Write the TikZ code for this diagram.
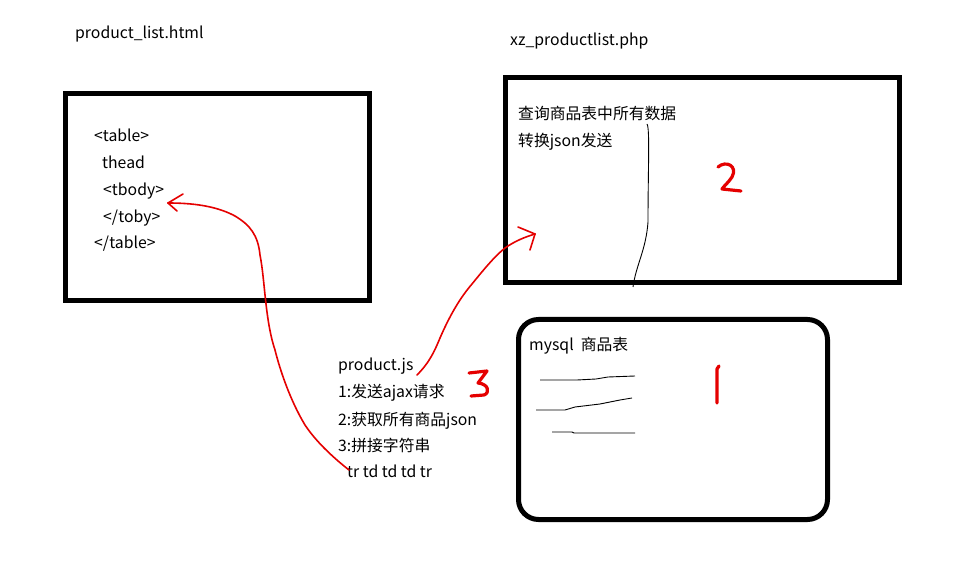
\documentclass[tikz,border=0pt]{standalone}
\usepackage{fontspec}
\setmainfont{Noto Sans CJK SC}
\begin{document}
\begin{tikzpicture}[x=1pt,y=-1pt,
  txt/.style={anchor=base west,inner sep=0pt,font=\fontsize{15.8}{18}\selectfont},
  frame/.style={draw=black,line width=5pt},
  pen/.style={draw=red!90!black,line width=1.6pt,line join=round,line cap=round},
  digit/.style={draw=red!90!black,line width=3.2pt,line join=round,line cap=round},
  ink/.style={draw=black,line width=0.9pt}]
\useasboundingbox[fill=white] (0,0) rectangle (962,585);
% boxes
\draw[frame] (65.5,93.5) rectangle (369.5,300.5);
\draw[frame] (505.5,78) rectangle (899.5,282.5);
\draw[frame,rounded corners=20pt] (518.5,319.5) rectangle (827.5,519.5);
% titles
\node[txt] (t1) at (75,39) {product\_list.html};
\node[txt] (t2) at (510,46) {xz\_productlist.php};
% html box
\node[txt] (h1) at (94,142) {<table>};
\node[txt] (h2) at (102,169) {thead};
\node[txt] (h3) at (103,196) {<tbody>};
\node[txt] (h4) at (103,223) {</toby>};
\node[txt] (h5) at (94,249) {</table>};
% php box
\node[txt] (p1) at (518,120) {查询商品表中所有数据};
\node[txt] (p2) at (518,147) {转换json发送};
% mysql box
\node[txt] (m1) at (529,351) {mysql\ \ 商品表};
% js text
\node[txt] (j1) at (338,371) {product.js};
\node[txt] (j2) at (338,398) {1:发送ajax请求};
\node[txt] (j3) at (338,425) {2:获取所有商品json};
\node[txt] (j4) at (338,452) {3:拼接字符串};
\node[txt] (j5) at (347,478) {tr td td td tr};
% black sketch line in php box
\draw[ink] (647,124) .. controls (650,128) and (648,170) .. (648,222) .. controls (646,250) and (636,265) .. (633,287);
% table lines in mysql box
\draw[ink] (540,380) -- (577,380) -- (596,379) -- (608,377) -- (635,376);
\draw[ink] (536,410) -- (565,410) -- (575,407) -- (600,404) -- (620,400) -- (632,398);
\draw[ink] (552,432) -- (572,432) -- (574,433) -- (635,433);
% red arrow js -> tbody
\coordinate (a1s) at (349,470);
\coordinate (a1e) at (168,203);
\draw[pen] (a1s) .. controls (330,455) and (315,440) .. (305,425)
  .. controls (290,400) and (280,370) .. (275,350)
  .. controls (265,320) and (265,280) .. (260,255)
  .. controls (258,235) and (250,225) .. (235,216)
  .. controls (220,208) and (200,203) .. (a1e);
\draw[pen] (a1e) -- (183,194);
\draw[pen] (a1e) -- (177,211);
% red arrow js -> php
\coordinate (a2s) at (417,375);
\coordinate (a2e) at (535,234);
\draw[pen] (a2s) .. controls (430,362) and (435,350) .. (440,338)
  .. controls (450,315) and (460,298) .. (472,284)
  .. controls (485,268) and (495,256) .. (505,248)
  .. controls (515,241) and (525,237) .. (a2e);
\draw[pen] (a2e) -- (518,227);
\draw[pen] (a2e) -- (530,250);
% red digits
\draw[digit] (718,167) .. controls (726,160) and (738,166) .. (732,177) .. controls (728,183) and (724,186) .. (722,189) -- (741,191);
\draw[digit] (469,373) -- (487,371) -- (478,383) .. controls (489,384) and (490,393) .. (484,395) -- (471,396);
\draw[digit] (719,366) -- (717,369) -- (717,403);
\end{tikzpicture}
\end{document}
